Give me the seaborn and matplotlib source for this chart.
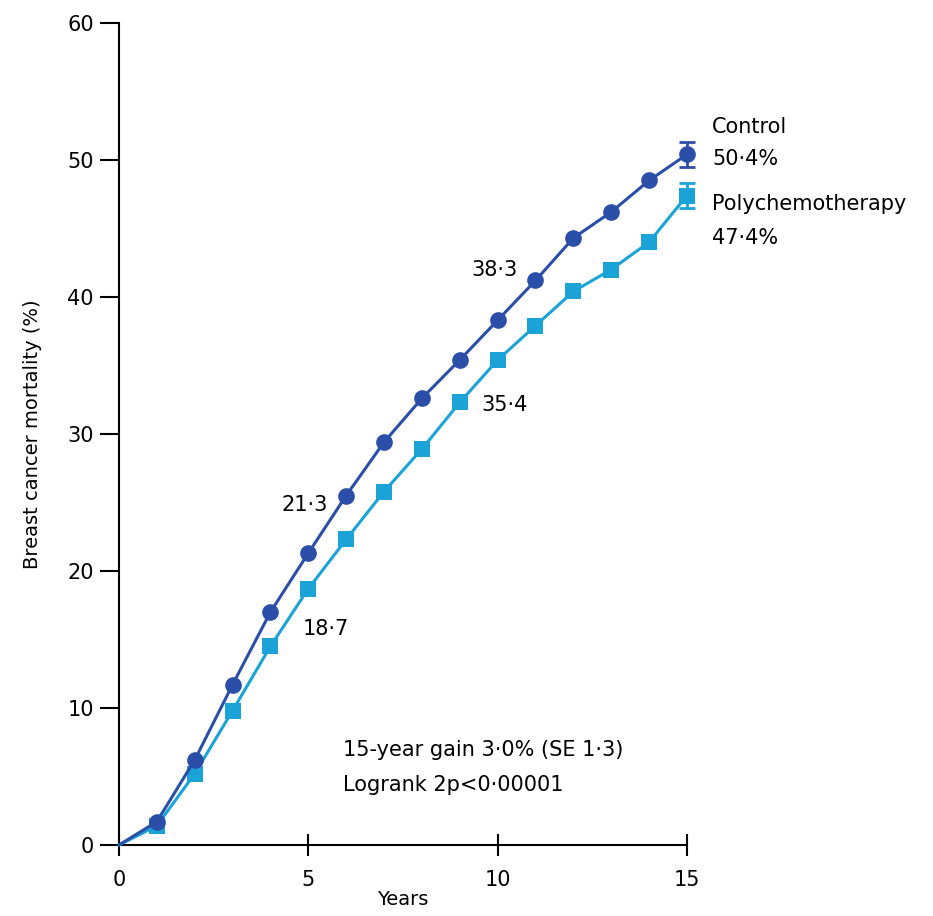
import matplotlib
matplotlib.use("Agg")
import matplotlib.pyplot as plt
import seaborn as sns
import pandas as pd
from matplotlib import font_manager

years = list(range(0, 16))
control = [0, 1.7, 6.2, 11.7, 17.0, 21.3, 25.5, 29.4, 32.6, 35.4, 38.3, 41.2, 44.3, 46.2, 48.5, 50.4]
poly = [0, 1.4, 5.2, 9.8, 14.5, 18.7, 22.3, 25.8, 28.9, 32.3, 35.4, 37.9, 40.4, 42.0, 44.0, 47.4]
err_year = 15
control_err = 0.9
poly_err = 0.9
xticks = [0, 5, 10, 15]
yticks = [0, 10, 20, 30, 40, 50, 60]

sns.set_theme(style="white")
names = {f.name for f in font_manager.fontManager.ttflist}
fam = "Liberation Sans Narrow" if "Liberation Sans Narrow" in names else "DejaVu Sans"
plt.rcParams['font.family'] = [fam, 'DejaVu Sans']
plt.rcParams['text.color'] = 'black'
plt.rcParams['axes.labelcolor'] = 'black'
plt.rcParams['xtick.color'] = 'black'
plt.rcParams['ytick.color'] = 'black'

dark = "#2B4EA8"
cyan = "#1BA3D8"

df = pd.DataFrame({
    "Years": years * 2,
    "Mortality": control + poly,
    "Group": ["Control"] * len(years) + ["Polychemotherapy"] * len(years),
})

fig = plt.figure(figsize=(9.33, 9.16), dpi=100)
ax = fig.add_axes([0.1275, 0.0775, 0.6088, 0.8975])

sns.lineplot(data=df, x="Years", y="Mortality", hue="Group", style="Group",
             hue_order=["Polychemotherapy", "Control"],
             style_order=["Polychemotherapy", "Control"],
             markers={"Control": "o", "Polychemotherapy": "s"}, dashes=False,
             palette={"Control": dark, "Polychemotherapy": cyan},
             markersize=12, linewidth=2.2, markeredgewidth=0, legend=False, ax=ax,
             markevery=list(range(1, len(years))), clip_on=False, zorder=3)

ax.errorbar([err_year], [control[-1]], yerr=[control_err], color=dark, capsize=6,
            elinewidth=2, capthick=2, fmt="none", clip_on=False, zorder=4)
ax.errorbar([err_year], [poly[-1]], yerr=[poly_err], color=cyan, capsize=6,
            elinewidth=2, capthick=2, fmt="none", clip_on=False, zorder=4)
for c in ax.collections + ax.lines:
    c.set_clip_on(False)

ax.set_xlim(0, 15)
ax.set_ylim(0, 60)
ax.set_xticks(xticks)
ax.set_yticks(yticks)
for s in ["top", "right"]:
    ax.spines[s].set_visible(False)
for s in ["left", "bottom"]:
    ax.spines[s].set_color("black")
    ax.spines[s].set_linewidth(1.5)
ax.tick_params(axis="y", direction="out", length=14, width=1.5, labelsize=15, pad=4, left=True)
ax.tick_params(axis="x", direction="inout", length=16, width=1.5, labelsize=15, pad=10, bottom=True)
ax.set_xlabel("Years", fontsize=14, labelpad=0)
ax.set_ylabel("Breast cancer mortality (%)", fontsize=14, labelpad=18)

fs = 15
ax.text(4.9, 24.8, "21·3", ha="center", va="center", fontsize=fs)
ax.text(5.47, 15.8, "18·7", ha="center", va="center", fontsize=fs)
ax.text(9.93, 42.0, "38·3", ha="center", va="center", fontsize=fs)
ax.text(10.19, 32.1, "35·4", ha="center", va="center", fontsize=fs)
ax.text(15.66, 52.4, "Control", ha="left", va="center", fontsize=fs, clip_on=False)
ax.text(15.66, 50.1, "50·4%", ha="left", va="center", fontsize=fs, clip_on=False)
ax.text(15.66, 46.8, "Polychemotherapy", ha="left", va="center", fontsize=fs, clip_on=False)
ax.text(15.66, 44.3, "47·4%", ha="left", va="center", fontsize=fs, clip_on=False)
ax.text(5.92, 6.9, "15-year gain 3·0% (SE 1·3)", ha="left", va="center", fontsize=fs)
ax.text(5.92, 4.4, "Logrank 2p<0·00001", ha="left", va="center", fontsize=fs)

fig.savefig("out.png", dpi=100, facecolor="white")
